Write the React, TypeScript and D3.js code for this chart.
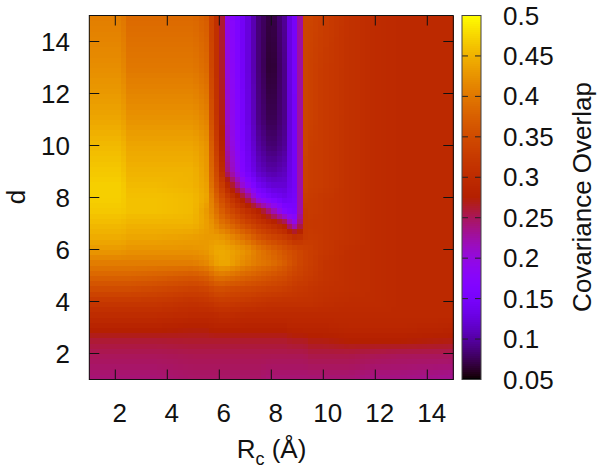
import React from 'react';
import * as d3 from 'd3';

const width = 601;
const height = 472;
const font = '"Liberation Sans", Arial, sans-serif';

// Rc and d positions of the readings below (the original scan is not evenly spaced)
const rcValues = [1, 2.2, 2.5, 3.5, 5, 5.5, 5.8, 6, 6.3, 7, 7.5, 8, 8.5, 8.8, 9, 9.25, 9.5, 10, 11, 12, 13, 15];
const dValues = [15, 13, 11, 10, 9, 8.5, 8, 7.5, 7, 6.5, 6, 5.5, 5, 4.5, 4, 3.5, 3, 2.5, 2, 1];

// covariance overlap, one row per d
const overlap = [
  [.405, .405, .385, .385, .385, .37, .32, .295, .19, .135, .085, .065, .095, .145, .15, .34, .34, .33, .31, .30, .295, .295],
  [.42, .42, .40, .40, .40, .385, .32, .295, .20, .135, .085, .06, .09, .145, .15, .34, .335, .325, .31, .30, .295, .295],
  [.44, .44, .425, .425, .425, .41, .33, .30, .21, .14, .09, .07, .09, .14, .15, .34, .335, .325, .31, .30, .295, .295],
  [.455, .455, .44, .44, .44, .425, .345, .31, .22, .145, .10, .08, .095, .14, .15, .34, .33, .325, .31, .30, .295, .295],
  [.465, .465, .45, .45, .45, .43, .36, .33, .24, .155, .115, .10, .11, .14, .15, .335, .33, .325, .31, .30, .295, .295],
  [.47, .47, .455, .455, .45, .435, .37, .345, .29, .19, .14, .12, .12, .14, .15, .335, .33, .325, .31, .30, .295, .295],
  [.47, .47, .46, .46, .455, .44, .39, .36, .33, .26, .18, .15, .135, .145, .15, .33, .325, .32, .31, .30, .295, .295],
  [.465, .465, .46, .46, .455, .43, .405, .38, .355, .31, .28, .23, .17, .155, .16, .32, .325, .32, .31, .30, .295, .295],
  [.455, .455, .45, .45, .45, .435, .42, .40, .385, .345, .32, .30, .27, .21, .19, .32, .32, .32, .31, .30, .295, .295],
  [.445, .445, .44, .44, .435, .43, .43, .43, .42, .39, .36, .34, .325, .31, .30, .32, .325, .32, .31, .30, .295, .295],
  [.43, .43, .425, .425, .425, .43, .44, .445, .44, .425, .40, .38, .36, .35, .345, .335, .33, .32, .305, .30, .295, .295],
  [.405, .405, .405, .405, .405, .415, .43, .44, .44, .415, .40, .39, .37, .355, .345, .335, .33, .315, .305, .30, .295, .295],
  [.38, .38, .38, .375, .365, .375, .39, .40, .395, .38, .37, .36, .35, .34, .335, .33, .325, .315, .305, .30, .295, .295],
  [.35, .35, .35, .345, .335, .34, .35, .355, .35, .345, .34, .335, .33, .325, .32, .32, .315, .31, .305, .30, .295, .295],
  [.32, .32, .32, .32, .31, .315, .32, .325, .325, .32, .315, .31, .31, .31, .31, .31, .31, .305, .30, .30, .295, .295],
  [.30, .30, .30, .30, .295, .295, .295, .30, .30, .295, .295, .295, .295, .295, .295, .295, .295, .295, .295, .295, .295, .295],
  [.28, .28, .28, .28, .275, .275, .28, .28, .28, .28, .28, .28, .28, .285, .285, .285, .285, .285, .29, .29, .29, .285],
  [.26, .26, .26, .26, .262, .262, .262, .262, .262, .262, .262, .262, .262, .265, .265, .265, .27, .27, .275, .275, .275, .27],
  [.25, .25, .25, .25, .252, .252, .252, .252, .252, .252, .252, .252, .252, .252, .252, .252, .255, .255, .255, .252, .25, .25],
  [.24, .24, .24, .24, .244, .244, .244, .244, .244, .244, .244, .24, .24, .24, .24, .24, .24, .24, .24, .235, .235, .23],
];

const xTicks = [2, 4, 6, 8, 10, 12, 14];
const yTicks = [2, 4, 6, 8, 10, 12, 14];
const colorTicks = [0.05, 0.1, 0.15, 0.2, 0.25, 0.3, 0.35, 0.4, 0.45, 0.5];

// gnuplot rgbformulae 7,5,15
const palette = (t: number) => {
  const c = Math.max(0, Math.min(1, t));
  const r = Math.sqrt(c);
  const g = c * c * c;
  const b = Math.max(0, Math.sin(2 * Math.PI * c));
  return d3.rgb(r * 255, g * 255, b * 255).formatHex();
};

const x = d3.scaleLinear().domain([1, 15]).range([89.3, 453.3]);
const y = d3.scaleLinear().domain([1, 15]).range([379.5, 15.5]);
const c = d3.scaleLinear().domain([0.05, 0.5]).range([379.5, 15.5]);
const gray = d3.scaleLinear().domain([0.05, 0.5]).range([0, 1]);
const rcIndex = d3.scaleLinear().domain(rcValues).range(rcValues.map((_, i) => i));
const dIndex = d3.scaleLinear().domain(dValues).range(dValues.map((_, i) => i));

// bilinear lookup, same as pm3d interpolate between the readings
const valueAt = (rc: number, d: number) => {
  const fx = rcIndex(rc);
  const fy = dIndex(d);
  const i = Math.min(Math.floor(fx), rcValues.length - 2);
  const j = Math.min(Math.floor(fy), dValues.length - 2);
  const top = d3.interpolateNumber(overlap[j][i], overlap[j][i + 1])(fx - i);
  const bottom = d3.interpolateNumber(overlap[j + 1][i], overlap[j + 1][i + 1])(fx - i);
  return d3.interpolateNumber(top, bottom)(fy - j);
};

const step = 0.2;
const cellsX = d3.range(0, 70).map((i) => 1 + i * step);
const cellsY = d3.range(0, 70).map((i) => 1 + i * step);
const barSteps = d3.range(0, 182).map((i) => 0.05 + (i * 0.45) / 182);

export default function App() {
  return (
    <svg
      width={width}
      height={height}
      style={{ position: 'absolute', left: 0, top: 0, background: '#fff' }}
      fontFamily={font}
      fontSize={26}
      fill="#111"
    >
      <g shapeRendering="crispEdges">
        {cellsX.map((rc) =>
          cellsY.map((d) => (
            <rect
              key={`${rc}-${d}`}
              x={x(rc)}
              y={y(d + step)}
              width={x(rc + step) - x(rc) + 0.5}
              height={y(d) - y(d + step) + 0.5}
              fill={palette(gray(valueAt(rc + step / 2, d + step / 2)))}
            />
          ))
        )}
        {barSteps.map((v) => (
          <rect
            key={v}
            x={462}
            y={c(v + 0.45 / 182)}
            width={19}
            height={c(v) - c(v + 0.45 / 182) + 0.5}
            fill={palette(gray(v))}
          />
        ))}
      </g>

      {/* main frame and ticks */}
      <g stroke="#111" strokeWidth={1} fill="none">
        {xTicks.map((t) => (
          <g key={t}>
            <line x1={x(t)} x2={x(t)} y1={379.5} y2={369.5} />
            <line x1={x(t)} x2={x(t)} y1={15.5} y2={25.5} />
          </g>
        ))}
        {yTicks.map((t) => (
          <g key={t}>
            <line x1={89.3} x2={99.3} y1={y(t)} y2={y(t)} />
            <line x1={453.3} x2={443.3} y1={y(t)} y2={y(t)} />
          </g>
        ))}
        <rect x={89.3} y={15.5} width={364} height={364} />
      </g>

      {/* colour box */}
      <g stroke="#222" strokeWidth={1} fill="none">
        {colorTicks.slice(1, -1).map((t) => (
          <g key={t}>
            <line x1={462} x2={468} y1={c(t)} y2={c(t)} />
            <line x1={481} x2={475} y1={c(t)} y2={c(t)} />
          </g>
        ))}
        <rect x={462} y={15.5} width={19} height={364} stroke="#444" />
      </g>

      {xTicks.map((t) => (
        <text key={t} x={x(t) + 4.5} y={421.5} textAnchor="middle">
          {t}
        </text>
      ))}
      {yTicks.map((t) => (
        <text key={t} x={70} y={y(t) + 9} textAnchor="end">
          {t}
        </text>
      ))}
      {colorTicks.map((t) => (
        <text key={t} x={503} y={c(t) + 9}>
          {t}
        </text>
      ))}

      <text x={271.5} y={458} textAnchor="middle">
        R<tspan fontSize={18} dy={7}>c</tspan>
        <tspan dy={-7}> (Å)</tspan>
      </text>
      <text transform="translate(25,197) rotate(-90)" textAnchor="middle">
        d
      </text>
      <text transform="translate(590.5,197) rotate(-90)" textAnchor="middle">
        Covariance Overlap
      </text>
    </svg>
  );
}
